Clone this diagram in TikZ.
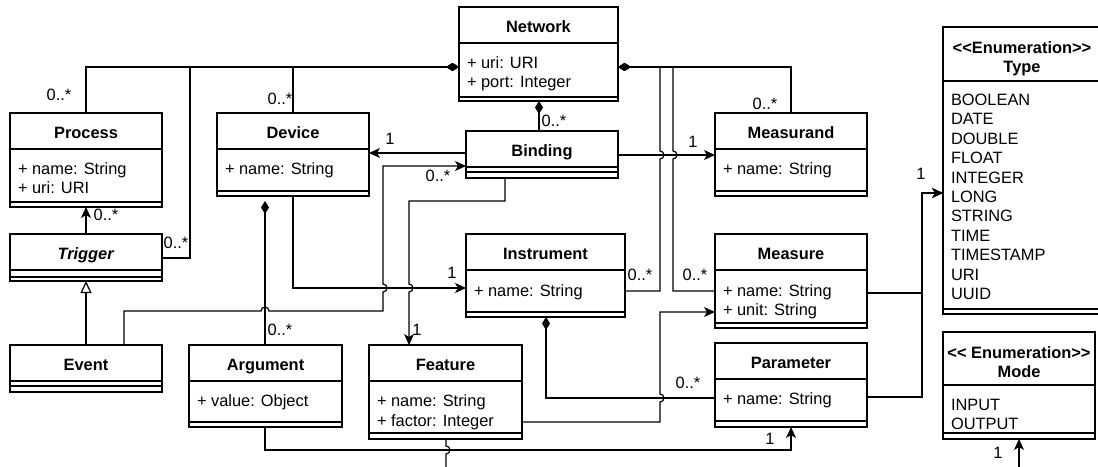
\documentclass[tikz,border=0pt]{standalone}
\usepackage{fontspec}
\setmainfont{Liberation Sans}
\usetikzlibrary{arrows.meta,calc}
\tikzset{
 cls/.style={draw, fill=white, anchor=north west, inner sep=0pt, outer sep=0pt, line width=1.3pt},
 box/.style={line width=1.3pt},
 conn/.style={line width=1.2pt},
 arr/.style={-{Stealth[length=11pt,width=10pt,inset=3pt]}},
 comp/.style={{Diamond[length=13pt,width=8pt]}-},
 gen/.style={-{Triangle[open,length=12pt,width=11pt]}},
 txt/.style={font=\fontsize{16.4}{19.4}\selectfont, inner sep=0pt, outer sep=0pt},
 ttl/.style={txt, font=\fontsize{16.4}{19.4}\selectfont\bfseries, anchor=base},
 att/.style={txt, anchor=base west, xshift=8pt},
 lbl/.style={txt, anchor=center},
}
\newcommand{\UMLbox}[7]{%
 \node[cls, minimum width={#4-#2}, minimum height={#5-#3}] (#1) at (#2,#3) {};
 \draw[box] (#1.west |- 0,#6) -- (#1.east |- 0,#6);
 \draw[box] (#1.west |- 0,#7) -- (#1.east |- 0,#7);
}
\newcommand{\UMLtitle}[4]{\node[ttl] (#1-#2) at (#1.north |- 0,#4) {#3};}
\newcommand{\UMLattr}[4]{\node[att] (#1-#2) at (#1.west |- 0,#4) {#3};}
\begin{document}
\begin{tikzpicture}[x=1pt,y=-1pt]
\useasboundingbox (0,0) rectangle (1098,466);
\fill[white] (0,0) rectangle (1098,466);
\clip (0,0) rectangle (1098,466);

% classes
\UMLbox{network}{459}{7}{618}{101}{43}{97}
\UMLtitle{network}{t}{Network}{32.5}
\UMLattr{network}{a1}{+ uri: URI}{68}
\UMLattr{network}{a2}{+ port: Integer}{87.5}

\UMLbox{process}{10}{113}{162}{207}{149}{202}
\UMLtitle{process}{t}{Process}{138.5}
\UMLattr{process}{a1}{+ name: String}{174}
\UMLattr{process}{a2}{+ uri: URI}{193}

\UMLbox{device}{217}{113}{369}{196}{149}{191}
\UMLtitle{device}{t}{Device}{138.5}
\UMLattr{device}{a1}{+ name: String}{174}

\UMLbox{binding}{466}{131}{618}{178}{167}{172}
\UMLtitle{binding}{t}{Binding}{156.5}

\UMLbox{measurand}{715}{113}{867}{196}{149}{191}
\UMLtitle{measurand}{t}{Measurand}{138.5}
\UMLattr{measurand}{a1}{+ name: String}{174}

\UMLbox{trigger}{10}{234}{162}{281}{270}{277}
\UMLtitle{trigger}{t}{\textit{Trigger}}{259.5}

\UMLbox{instrument}{466}{234}{625}{317}{270}{312}
\UMLtitle{instrument}{t}{Instrument}{259.5}
\UMLattr{instrument}{a1}{+ name: String}{296}

\UMLbox{measure}{715}{234}{867}{328}{270}{323}
\UMLtitle{measure}{t}{Measure}{259.5}
\UMLattr{measure}{a1}{+ name: String}{296}
\UMLattr{measure}{a2}{+ unit: String}{315}

\UMLbox{event}{10}{345}{162}{392}{381}{386}
\UMLtitle{event}{t}{Event}{370.5}

\UMLbox{argument}{189}{345}{342}{427}{381}{422}
\UMLtitle{argument}{t}{Argument}{370.5}
\UMLattr{argument}{a1}{+ value: Object}{406}

\UMLbox{feature}{369}{345}{522}{439}{381}{433}
\UMLtitle{feature}{t}{Feature}{370.5}
\UMLattr{feature}{a1}{+ name: String}{406}
\UMLattr{feature}{a2}{+ factor: Integer}{426}

\UMLbox{parameter}{715}{343}{867}{427}{379}{421}
\UMLtitle{parameter}{t}{Parameter}{368.5}
\UMLattr{parameter}{a1}{+ name: String}{404}

\UMLbox{type}{943}{27}{1101}{314}{81}{309}
\UMLtitle{type}{t1}{<{}<Enumeration>{}>}{53.5}
\UMLtitle{type}{t2}{Type}{72.7}
\foreach \v [count=\i from 0] in {BOOLEAN,DATE,DOUBLE,FLOAT,INTEGER,LONG,STRING,TIME,TIMESTAMP,URI,UUID}{
  \pgfmathsetmacro{\yy}{105.5+19.4*\i}
  \UMLattr{type}{i\i}{\v}{\yy}
}

\UMLbox{mode}{943}{332}{1095}{439}{385}{433}
\UMLtitle{mode}{t1}{<{}< Enumeration>{}>}{358}
\UMLtitle{mode}{t2}{Mode}{377}
\UMLattr{mode}{i0}{INPUT}{410}
\UMLattr{mode}{i1}{OUTPUT}{429}

\coordinate (offA) at (446,472);
\coordinate (offB) at (1019,472);

% connectors
\draw[conn,comp] (network.west |- 0,67) -| (process.north);
\draw[conn,comp] (network.west |- 0,67) -| (190,258) -- (trigger.east |- 0,258);
\draw[conn,comp] (network.west |- 0,67) -| (device.north);
\draw[conn,comp] (network.south -| 539,0) -- (binding.north -| 539,0);
\draw[conn,comp] (network.east |- 0,67) -| (measurand.north);
\draw[conn,comp] (network.east |- 0,67) -- (660,67) -- (660,151) arc[start angle=90,end angle=-90,radius=4pt] -- (660,291) -- (instrument.east |- 0,291);
\draw[conn,comp] (network.east |- 0,67) -- (673,67) -- (673,151) arc[start angle=90,end angle=-90,radius=4pt] -- (673,291) -- (measure.west |- 0,291);

\draw[conn,arr] (binding.west |- 0,153) -- (device.east |- 0,153);
\draw[conn,arr] (binding.east |- 0,155) -- (measurand.west |- 0,155);
\draw[conn,arr] (event.north -| 124,0) -- (124,311) -- (261,311) arc[start angle=180,end angle=0,radius=4pt] -- (383,311) -- (383,292) arc[start angle=-90,end angle=90,radius=4pt] -- (383,166) -- (binding.west |- 0,166);
\draw[conn,arr] (device.south) |- (instrument.west |- 0,288);
\draw[conn,arr] (binding.south -| 505,0) -- (505,201) -- (409,201) -- (409,284) arc[start angle=90,end angle=-90,radius=4pt] -- (feature.north -| 409,0);
\draw[conn,comp,shorten <=5pt] (device.south -| 265,0) -- (argument.north -| 265,0);
\draw[conn,comp] (instrument.south -| 546,0) -- (546,398) -- (parameter.west |- 0,398);
\draw[conn,arr] (feature.east |- 0,422) -- (660,422) -- (660,402) arc[start angle=-90,end angle=90,radius=4pt] -- (660,312) -- (measure.west |- 0,312);
\draw[conn,arr] (argument.south -| 265,0) -- (265,450) -- (791,450) -- (parameter.south);
\draw[conn] (feature.south -| 446,0) -- (446,446) arc[start angle=90,end angle=-90,radius=4pt] -- (offA);
\draw[conn,arr] (offB) -- (mode.south);
\draw[conn,arr] (measure.east |- 0,293) -- (922,293) -- (922,193) -- (type.west |- 0,193);
\draw[conn,arr] (parameter.east |- 0,397) -- (922,397) -- (922,193) -- (type.west |- 0,193);
\draw[conn,arr] (trigger.north) -- (process.south);
\draw[conn,gen] (event.north) -- (trigger.south);

% labels
\node[lbl] (l1) at (59,95) {0..*};
\node[lbl] (l2) at (176,243) {0..*};
\node[lbl] (l3) at (280,99) {0..*};
\node[lbl] (l4) at (554,121) {0..*};
\node[lbl] (l5) at (765,104) {0..*};
\node[lbl] (l6) at (693,142) {1};
\node[lbl] (l7) at (390,139) {1};
\node[lbl] (l8) at (438,176) {0..*};
\node[lbl] (l9) at (452,273) {1};
\node[lbl] (l10) at (640,275) {0..*};
\node[lbl] (l11) at (695,275) {0..*};
\node[lbl] (l12) at (688,383) {0..*};
\node[lbl] (l13) at (770,439) {1};
\node[lbl] (l14) at (417,330) {1};
\node[lbl] (l15) at (280,330) {0..*};
\node[lbl] (l16) at (921,174) {1};
\node[lbl] (l17) at (998,453) {1};
\node[lbl] (l18) at (106,215) {0..*};
\end{tikzpicture}
\end{document}
